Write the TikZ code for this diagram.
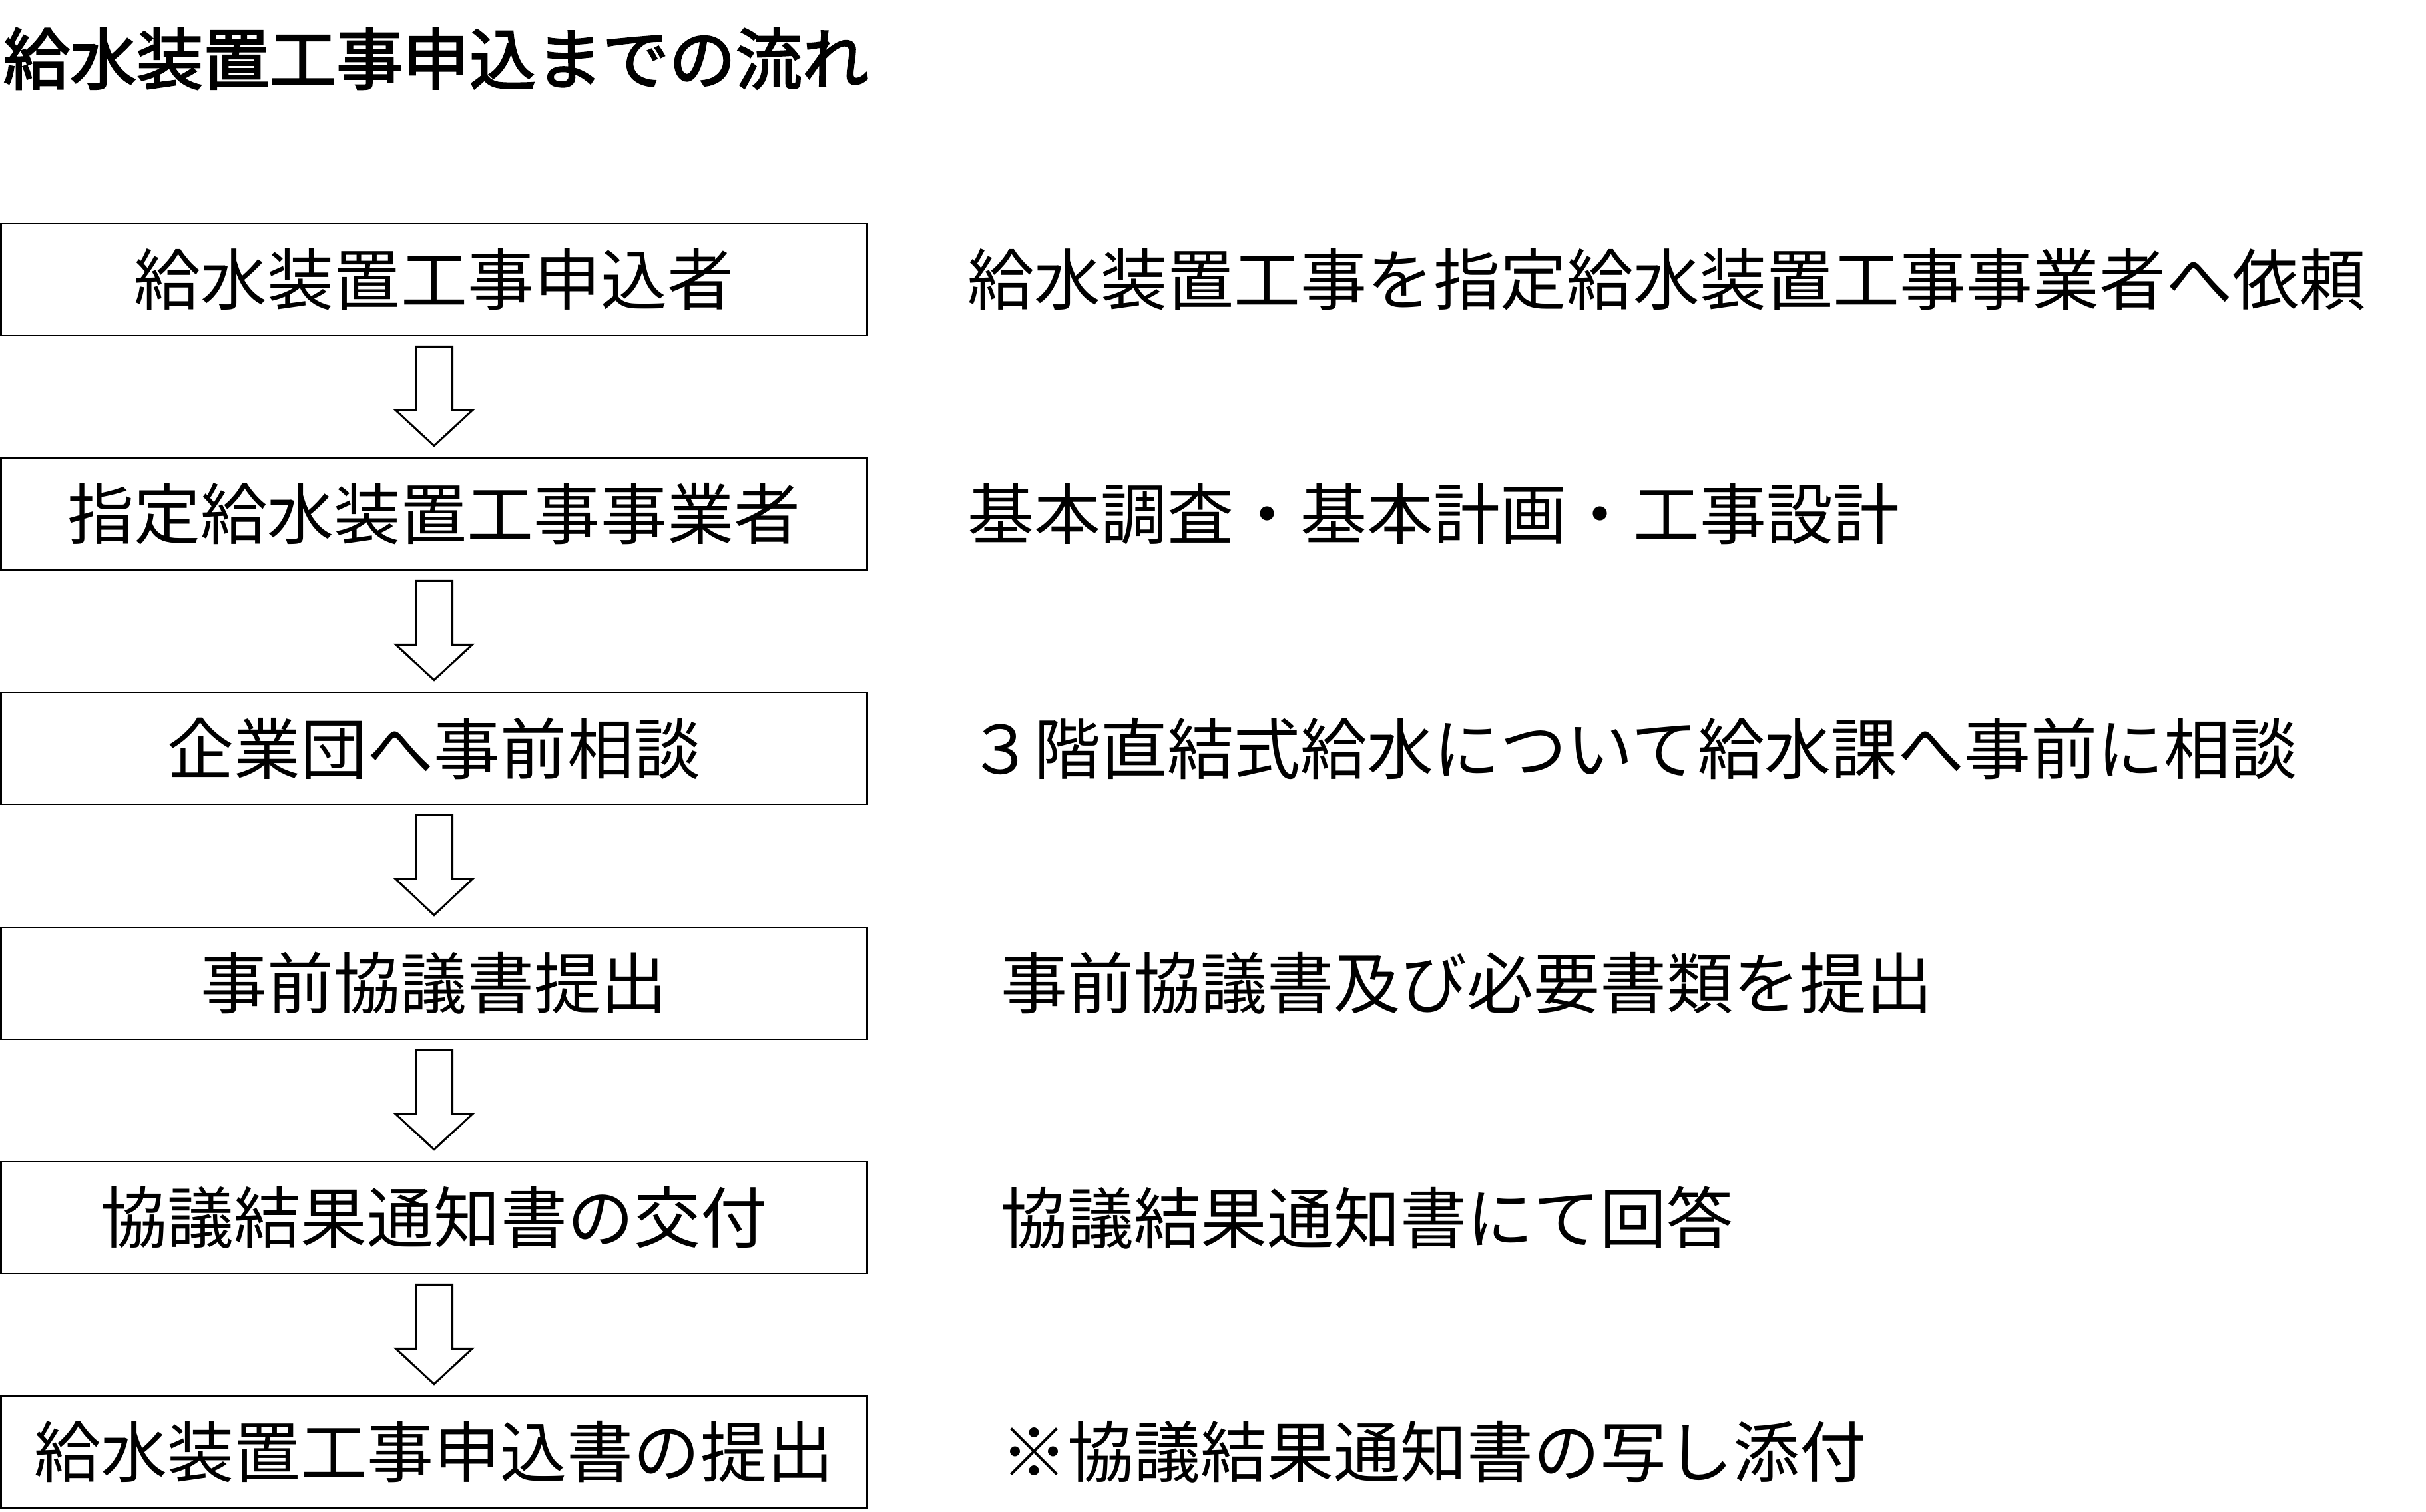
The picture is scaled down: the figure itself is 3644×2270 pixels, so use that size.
\documentclass[tikz,border=0pt]{standalone}
\usepackage{fontspec}
\setmainfont{Noto Sans CJK JP}
\newfontfamily\titlefont[FakeBold=2.5]{Noto Sans CJK JP}
\usetikzlibrary{calc}
\tikzset{
  stepbox/.style={draw=black, line width=0.55pt, minimum width=1301.5*0.2pt, minimum height=168*0.2pt, inner sep=0pt, font=\fontsize{20pt}{24pt}\selectfont},
  note/.style={anchor=west, inner sep=0pt, font=\fontsize{20pt}{24pt}\selectfont},
  blockarrow/.style={draw=black, line width=0.6pt, fill=white, line join=miter},
}
\begin{document}
\begin{tikzpicture}[x=0.2pt,y=-0.2pt]
\useasboundingbox (0,0) rectangle (3644,2270);
\node[anchor=west, inner sep=0pt, font=\titlefont\fontsize{20pt}{24pt}\selectfont] (title) at (4,88) {給水装置工事申込までの流れ};

\node[stepbox] (b1) at (652,420) {給水装置工事申込者};
\node[stepbox] (b2) at (652,772) {指定給水装置工事事業者};
\node[stepbox] (b3) at (652,1124) {企業団へ事前相談};
\node[stepbox] (b4) at (652,1477) {事前協議書提出};
\node[stepbox] (b5) at (652,1829) {協議結果通知書の交付};
\node[stepbox] (b6) at (652,2181) {給水装置工事申込書の提出};

\node[note] (n1) at (1452,420) {給水装置工事を指定給水装置工事事業者へ依頼};
\node[note] (n2) at (1452,772) {基本調査・基本計画・工事設計};
\node[note] (n3) at (1452,1124) {３階直結式給水について給水課へ事前に相談};
\node[note] (n4) at (1502,1477) {事前協議書及び必要書類を提出};
\node[note] (n5) at (1502,1829) {協議結果通知書にて回答};
\node[note] (n6) at (1502,2181) {※協議結果通知書の写し添付};

\foreach \a/\b in {b1/b2,b2/b3,b3/b4,b4/b5,b5/b6}{
  \draw[blockarrow]
    ($(\a.south)+(-27.5,15)$) -- ($(\a.south)+(27.5,15)$) --
    ($(\a.south)+(27.5,111)$) -- ($(\a.south)+(57.5,111)$) --
    ($(\b.north)+(0,-17)$) --
    ($(\a.south)+(-57.5,111)$) -- ($(\a.south)+(-27.5,111)$) -- cycle;
}
\end{tikzpicture}
\end{document}
